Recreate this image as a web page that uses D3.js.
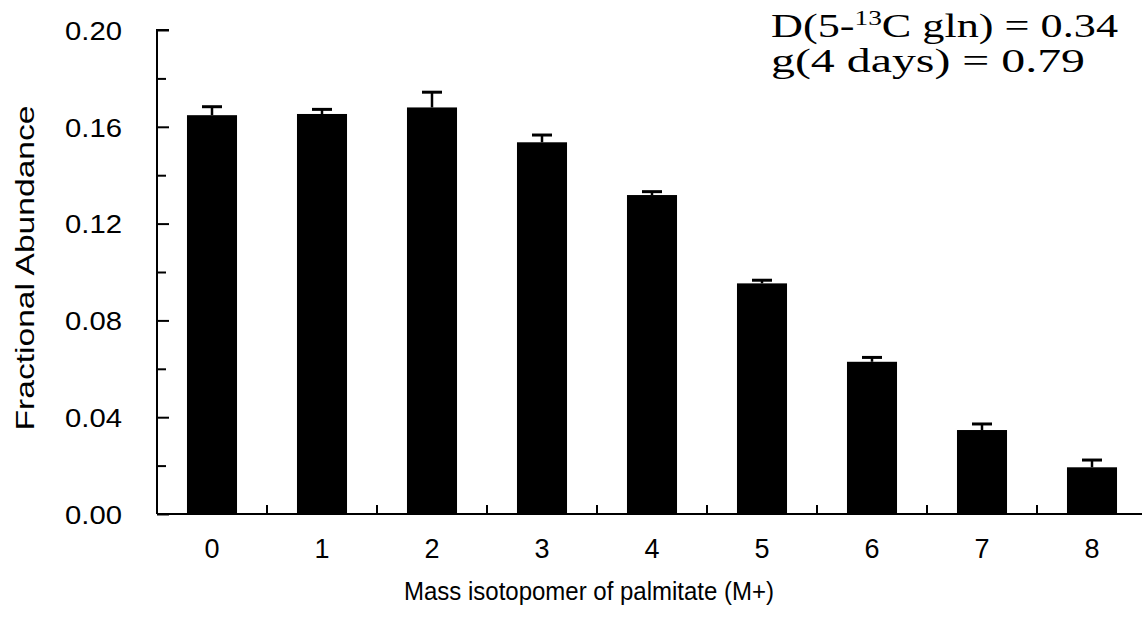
<!DOCTYPE html>
<html><head><meta charset="utf-8">
<script src="https://cdn.jsdelivr.net/npm/d3@7"></script>
<style>body{margin:0;background:#fff}svg{display:block}</style>
</head><body>
<svg id="c" width="1142" height="638"></svg>
<script>
const categories = ["0","1","2","3","4","5","6","7","8"];
const values = [0.1648, 0.1653, 0.1680, 0.1536, 0.1318, 0.0953, 0.0629, 0.0347, 0.0193];
const errors = [0.0035, 0.0019, 0.0063, 0.0030, 0.0014, 0.0013, 0.0018, 0.0025, 0.0030];
const majorTicks = [0, 0.04, 0.08, 0.12, 0.16, 0.20];
const minorTicks = [0.02, 0.06, 0.10, 0.14, 0.18];

(function(){
const svg = d3.select("#c");
const pL = 157, pR = 1147, pT = 30, pB = 514;
const x = d3.scaleBand().domain(categories).range([pL, pR]).paddingInner(0.545).paddingOuter(0.2725);
const y = d3.scaleLinear().domain([0, 0.20]).range([pB, pT]);
const sans = "Arial, 'Liberation Sans', sans-serif";

// bars
svg.append("g").selectAll("rect").data(values).join("rect")
  .attr("x", (d,i)=>x(categories[i])).attr("width", x.bandwidth())
  .attr("y", d=>y(d)).attr("height", d=>pB - y(d)).attr("fill", "#000");

// error bars
const eg = svg.append("g").attr("stroke", "#000");
values.forEach((v,i)=>{
  const cx = x(categories[i]) + x.bandwidth()/2;
  eg.append("line").attr("x1",cx).attr("x2",cx).attr("y1",y(v)).attr("y2",y(v+errors[i])).attr("stroke-width",2.5);
  eg.append("line").attr("x1",cx-10).attr("x2",cx+10).attr("y1",y(v+errors[i])).attr("y2",y(v+errors[i])).attr("stroke-width",3);
});

// y axis
const yAxis = d3.axisLeft(y).tickValues(majorTicks).tickSize(-12).tickPadding(35).tickFormat(d3.format(".2f"));
const ga = svg.append("g").attr("transform", `translate(${pL},0)`).call(yAxis);
ga.select(".domain").attr("d", `M12,${pT}H0V${pB}`).attr("stroke-width",2);
ga.selectAll(".tick line").attr("stroke-width",2);
ga.selectAll("text").attr("font-family",sans).attr("font-size",26).attr("fill","#000")
  .attr("textLength",57).attr("lengthAdjust","spacingAndGlyphs").attr("dy","0.36em");
const gm = svg.append("g").attr("transform", `translate(${pL},0)`).call(d3.axisLeft(y).tickValues(minorTicks).tickSize(-9).tickFormat(""));
gm.select(".domain").remove();
gm.selectAll(".tick line").attr("stroke-width",2);

// x axis
const xg = svg.append("g");
xg.append("line").attr("x1",pL).attr("x2",pR).attr("y1",pB).attr("y2",pB).attr("stroke","#000").attr("stroke-width",2);
categories.forEach((c,i)=>{
  const bx = x(c) + x.bandwidth() + (x.step()-x.bandwidth())/2;
  xg.append("line").attr("x1",bx).attr("x2",bx).attr("y1",pB).attr("y2",pB-9).attr("stroke","#000").attr("stroke-width",2);
  xg.append("text").attr("x", x(c)+x.bandwidth()/2).attr("y", 558).attr("text-anchor","middle")
    .attr("font-family",sans).attr("font-size",27).text(c);
});

// titles
svg.append("text").attr("x", 589).attr("y", 600).attr("text-anchor","middle")
  .attr("font-family",sans).attr("font-size",25).attr("textLength",370).attr("lengthAdjust","spacingAndGlyphs")
  .text("Mass isotopomer of palmitate (M+)");
svg.append("text").attr("transform","translate(34,268) rotate(-90)").attr("text-anchor","middle")
  .attr("font-family",sans).attr("font-size",25).attr("textLength",325).attr("lengthAdjust","spacingAndGlyphs")
  .text("Fractional Abundance");

// annotation
const ann = svg.append("g").attr("font-family","'Liberation Serif', 'Times New Roman', serif").attr("font-size",34).attr("fill","#000");
const t1 = ann.append("text").attr("x",771).attr("y",37).attr("textLength",347).attr("lengthAdjust","spacingAndGlyphs");
t1.append("tspan").text("D(5-");
t1.append("tspan").attr("font-size",21).attr("dy",-12).text("13");
t1.append("tspan").attr("dy",12).text("C gln) = 0.34");
ann.append("text").attr("x",771).attr("y",72).attr("textLength",314).attr("lengthAdjust","spacingAndGlyphs").text("g(4 days) = 0.79");
})();
</script>
</body></html>
